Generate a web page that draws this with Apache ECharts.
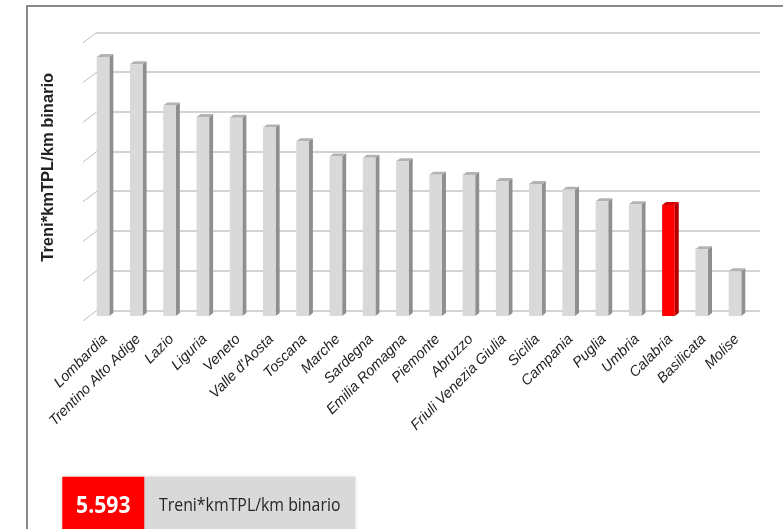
<!DOCTYPE html>
<html><head><meta charset="utf-8">
<script src="https://cdn.jsdelivr.net/npm/echarts@6/dist/echarts.min.js"></script>
<style>html,body{margin:0;padding:0;background:#fff}#c{width:783px;height:529px}</style>
</head><body><div id="c"></div>
<script>
const categories = ['Lombardia','Trentino Alto Adige','Lazio','Liguria','Veneto',"Valle d'Aosta",'Toscana','Marche','Sardegna','Emilia Romagna','Piemonte','Abruzzo','Friuli Venezia Giulia','Sicilia','Campania','Puglia','Umbria','Calabria','Basilicata','Molise'];
const values = [13050,12680,10610,10030,9990,9490,8800,8030,7970,7790,7120,7100,6800,6650,6360,5780,5630,5593,3360,2250];
const highlightRegion = 'Calabria';
const yTicks = [0,2000,4000,6000,8000,10000,12000,14000];
const yAxisTitle = 'Treni*kmTPL/km binario';
const legendLabel = 'Treni*kmTPL/km binario';

function fmt(n){ return String(n).replace(/\B(?=(\d{3})+(?!\d))/g,'.'); }
const hiIdx = categories.indexOf(highlightRegion);
const hiText = fmt(values[hiIdx]);

const chart = echarts.init(document.getElementById('c'), null, {renderer:'canvas'});

function bar3d(params, api){
  const i = api.value(0), v = api.value(1);
  const top = api.coord([i, v]);
  const base = api.coord([i, 0]);
  const band = api.size([1,0])[0];
  const c = top[0];
  const fw = band*0.38, dx = band*0.12, dy = 3;
  const x0 = c - (fw+dx)/2, x1 = x0+fw, x2 = x1+dx;
  const isHi = categories[i] === highlightRegion;
  const front = isHi ? '#ff0000' : '#d9d9d9';
  const side = isHi ? '#b00000' : '#8f8f8f';
  const cap = isHi ? '#d40000' : '#b3b3b3';
  return {type:'group', children:[
    {type:'polygon', shape:{points:[[x1,top[1]],[x2,top[1]-dy],[x2,base[1]-dy],[x1,base[1]]]}, style:{fill:side}},
    {type:'polygon', shape:{points:[[x0,top[1]],[x1,top[1]],[x2,top[1]-dy],[x0+dx,top[1]-dy]]}, style:{fill:cap}},
    {type:'rect', shape:{x:x0,y:top[1],width:fw,height:base[1]-top[1]}, style:{fill:front}}
  ]};
}

const option = {
  animation:false,
  grid:[
    {left:97, right:23, top:32.3, bottom:218.7},
    {left:88.4, right:29.4, top:38.1, bottom:213}
  ],
  xAxis:[
    {gridIndex:0, type:'value', show:false, min:0, max:1},
    {gridIndex:1, type:'category', data:categories, axisLine:{show:false}, axisTick:{show:false},
     axisLabel:{interval:0, rotate:45, margin:21, fontStyle:'italic', fontFamily:'Liberation Sans', fontSize:14.5, color:'#222'}}
  ],
  yAxis:[
    {gridIndex:0, type:'value', min:0, max:14000, interval:2000,
     axisLabel:{show:false}, axisLine:{show:false}, axisTick:{show:false},
     splitLine:{lineStyle:{color:'#c4c4c4', width:1.5}},
     name:yAxisTitle, nameLocation:'middle', nameRotate:90, nameGap:40,
     nameTextStyle:{fontFamily:'Liberation Sans', fontWeight:'bold', fontSize:16.5, color:'#222', padding:[0,0,0,8]}},
    {gridIndex:1, type:'value', min:0, max:14000, interval:2000, show:false}
  ],
  series:[
    {type:'custom', xAxisIndex:0, yAxisIndex:0, silent:true, clip:false,
     data:yTicks.map(v=>[0,v]),
     renderItem:(params, api)=>{
       const p = api.coord([0, api.value(1)]);
       return {type:'line', shape:{x1:p[0]-14, y1:p[1]+10.5, x2:p[0], y2:p[1]}, style:{stroke:'#bdbdbd', lineWidth:1}};
     }},
    {type:'custom', xAxisIndex:1, yAxisIndex:1, silent:true, clip:false,
     data:values.map((v,i)=>[i,v]), renderItem:bar3d}
  ],
  graphic:[
    {type:'rect', shape:{x:27, y:6, width:800, height:600}, style:{fill:'none', stroke:'#666', lineWidth:1.5}, silent:true},
    {type:'rect', shape:{x:62.3, y:476.7, width:293, height:60}, style:{fill:'#d9d9d9', shadowBlur:4, shadowColor:'rgba(0,0,0,0.15)'}},
    {type:'rect', shape:{x:62.3, y:476.7, width:82, height:60}, style:{fill:'#ff0000'}},
    {type:'text', x:103.3, y:506, scaleX:0.92, style:{text:hiText, fill:'#fff', font:'bold 23px "Open Sans"', align:'center', verticalAlign:'middle'}},
    {type:'text', x:159, y:506, scaleX:0.835, style:{text:legendLabel, fill:'#262626', font:'19px "Open Sans"', align:'left', verticalAlign:'middle'}}
  ]
};
chart.setOption(option);
</script></body></html>
